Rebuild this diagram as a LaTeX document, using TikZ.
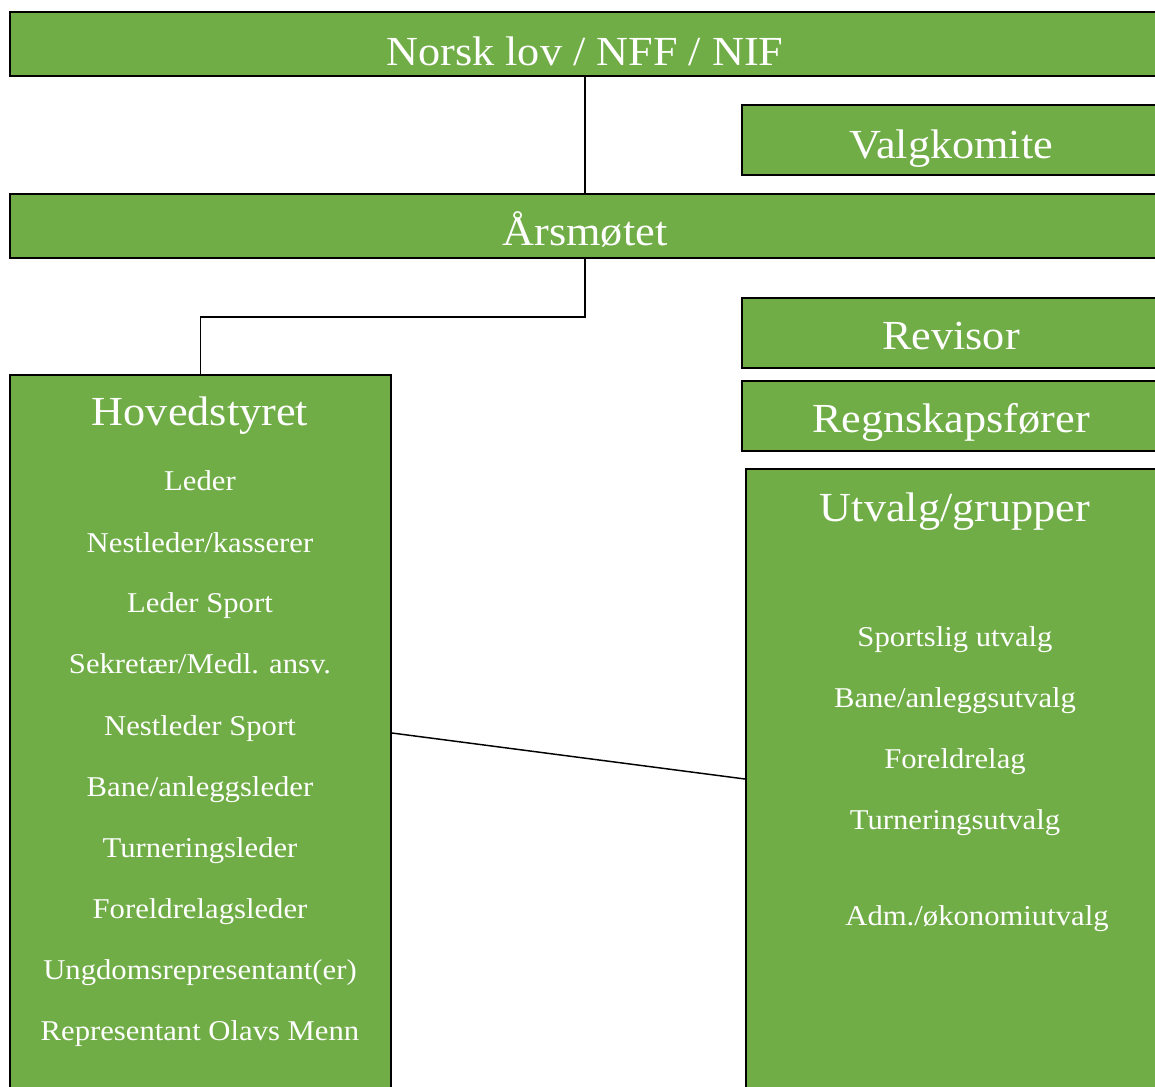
\documentclass[tikz,border=0pt]{standalone}
\usepackage{fontspec}
\setmainfont{Liberation Serif}[FakeStretch=1.07]
\usetikzlibrary{calc}
\definecolor{boxgreen}{HTML}{70AD47}
\begin{document}
\begin{tikzpicture}[x=0.75pt,y=-0.75pt,
  box/.style={draw=black,line width=1.5pt,fill=boxgreen,inner sep=0pt,rectangle},
  bigtxt/.style={text=white,font=\fontsize{31}{36}\selectfont,anchor=base,inner sep=0pt},
  smalltxt/.style={text=white,font=\fontsize{21.5}{26}\selectfont,anchor=base,inner sep=0pt},
  conn/.style={draw=black,line width=1.1pt}]
\useasboundingbox (0,0) rectangle (1155,1086);
\clip (0,0) rectangle (1155,1086);
% boxes
\node[box,minimum width=862.5pt,minimum height=48pt] (N) at (585,44) {};
\node[box,minimum width=313.5pt,minimum height=52.5pt] (V) at (951,140) {};
\node[box,minimum width=862.5pt,minimum height=48pt] (A) at (585,226) {};
\node[box,minimum width=313.5pt,minimum height=52.5pt] (R) at (951,333) {};
\node[box,minimum width=313.5pt,minimum height=52.5pt] (Rg) at (951,416) {};
\node[box,minimum width=313.5pt,minimum height=473.25pt] (U) at (955,784.5) {};
\node[box,minimum width=285.75pt,minimum height=543.75pt] (H) at (200.5,737.5) {};
% titles
\node[bigtxt] (Nt) at (585,65) {Norsk lov / NFF / NIF};
\node[bigtxt] (Vt) at (951,158) {Valgkomite};
\node[bigtxt] (At) at (585,245) {Årsmøtet};
\node[bigtxt] (Rt) at (951,349) {Revisor};
\node[bigtxt] (Rgt) at (951,432) {Regnskapsfører};
\node[bigtxt] (Ht) at (200,425) {Hovedstyret};
\node[bigtxt] (Ut) at (955,521) {Utvalg/grupper};
% Hovedstyret members
\node[smalltxt] (h1) at (200,490) {Leder};
\node[smalltxt] (h2) at (200,552) {Nestleder/kasserer};
\node[smalltxt] (h3) at (200,612) {Leder Sport};
\node[smalltxt] (h4) at (200,673) {Sekretær/Medl. ansv.};
\node[smalltxt] (h5) at (200,735) {Nestleder Sport};
\node[smalltxt] (h6) at (200,796) {Bane/anleggsleder};
\node[smalltxt] (h7) at (200,857) {Turneringsleder};
\node[smalltxt] (h8) at (200,918) {Foreldrelagsleder};
\node[smalltxt] (h9) at (200,979) {Ungdomsrepresentant(er)};
\node[smalltxt] (h10) at (200,1040) {Representant Olavs Menn};
% Utvalg members
\node[smalltxt] (u1) at (955,646) {Sportslig utvalg};
\node[smalltxt] (u2) at (955,707) {Bane/anleggsutvalg};
\node[smalltxt] (u3) at (955,768) {Foreldrelag};
\node[smalltxt] (u4) at (955,829) {Turneringsutvalg};
\node[smalltxt] (u5) at (977,925) {Adm./økonomiutvalg};
% connectors
\draw[conn] (N.south) -- (A.north);
\draw[conn] (A.south) -- ++(0,58) -| (H.north);
\draw[conn] ($(H.north east)+(0,359)$) -- ($(U.north west)+(0,311)$);
\end{tikzpicture}
\end{document}
